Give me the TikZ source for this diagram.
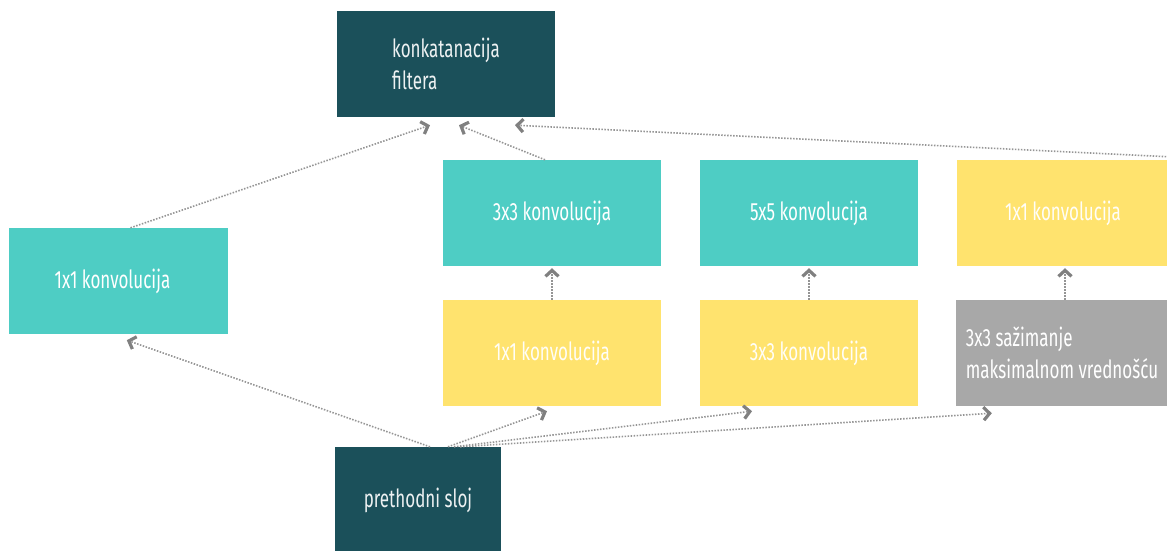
\documentclass[tikz,border=0pt]{standalone}
\usepackage{fontspec}
\setmainfont{Fira Sans}[FakeStretch=0.68]
\usetikzlibrary{arrows.meta,calc}
\definecolor{darkteal}{HTML}{1B505A}
\definecolor{teal2}{HTML}{4ECDC4}
\definecolor{yellow2}{HTML}{FFE36E}
\definecolor{gray2}{HTML}{A8A8A8}
\definecolor{linegray}{HTML}{959595}
\definecolor{tipgray}{HTML}{808080}
\begin{document}
\begin{tikzpicture}[x=1pt,y=-1pt,
  box/.style={rectangle, inner sep=0pt, minimum height=106pt, align=left,
    font=\fontsize{25}{32}\selectfont},
  darkbox/.style={box, fill=darkteal, text=white!92!darkteal},
  tealbox/.style={box, fill=teal2, text=white},
  yellowbox/.style={box, fill=yellow2, text=white!95!yellow2},
  graybox/.style={box, fill=gray2, text=white},
  conn/.style={draw=linegray, line width=1.6pt, dash pattern=on 1.5pt off 1.5pt,
    -{Straight Barb[length=6pt,width=13pt,line width=3.2pt,color=tipgray]}}]
\useasboundingbox (0,0) rectangle (1167,551);

% boxes
\node[darkbox, minimum width=218pt] (concat) at (446,64) {konkatanacija\\filtera};
\node[tealbox, minimum width=219pt] (left) at (118.5,281) {1x1 konvolucija\hspace*{12pt}};
\node[tealbox, minimum width=218pt] (c3) at (552,213) {3x3 konvolucija};
\node[tealbox, minimum width=218pt] (c5) at (809,213) {5x5 konvolucija};
\node[yellowbox, minimum width=212pt] (r1) at (1063,213) {1x1 konvolucija};
\node[yellowbox, minimum width=218pt] (y1) at (552,353) {1x1 konvolucija};
\node[yellowbox, minimum width=218pt] (y2) at (809,353) {3x3 konvolucija};
\node[graybox, minimum width=212pt] (pool) at (1062,353) {3x3 sažimanje\\maksimalnom vrednošću};
\node[darkbox, minimum width=166pt, minimum height=106pt] (prev) at (418,500) {prethodni sloj};

% connectors from the previous layer
\draw[conn] ($(prev.north)+(12,0)$) -- ($(left.south west)+(118,6)$);
\draw[conn] ($(prev.north)+(30,0)$) -- ($(y1.south)+(-5,5)$);
\draw[conn] ($(prev.north)+(36,0)$) -- ($(y2.south)+(-57,5)$);
\draw[conn] ($(prev.north)+(42,0)$) -- ($(pool.south west)+(36,7)$);

% inner vertical connectors
\draw[conn] (y1.north) -- ($(c3.south)+(0,2)$);
\draw[conn] (y2.north) -- ($(c5.south)+(0,2)$);
\draw[conn] ($(pool.north)+(3,0)$) -- ($(r1.south)+(2,2)$);

% connectors into the concatenation
\draw[conn] ($(left.north)+(12,0)$) -- ($(concat.south)+(-16,8)$);
\draw[conn] ($(c3.north)+(-7,0)$) -- ($(concat.south)+(13,8)$);
\draw[conn] ($(r1.north east)+(0,-3)$) -- ($(concat.south)+(69,8)$);
\end{tikzpicture}
\end{document}
